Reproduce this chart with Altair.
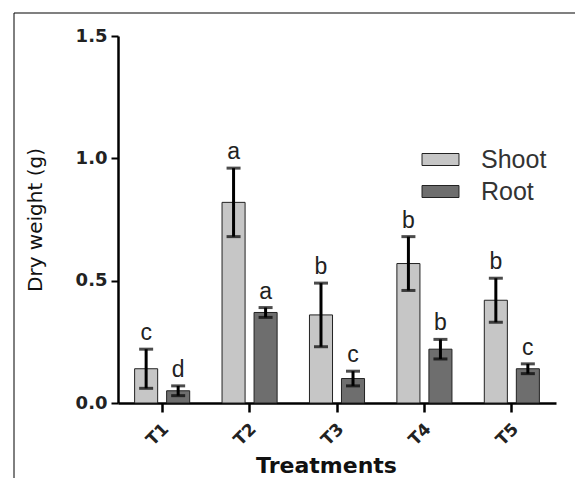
import altair as alt
import pandas as pd

treatments = ["T1", "T2", "T3", "T4", "T5"]
shoot = [0.14, 0.82, 0.36, 0.57, 0.42]
shoot_err = [0.08, 0.14, 0.13, 0.11, 0.09]
root = [0.05, 0.37, 0.10, 0.22, 0.14]
root_err = [0.02, 0.02, 0.03, 0.04, 0.02]
shoot_letters = ["c", "a", "b", "b", "b"]
root_letters = ["d", "a", "c", "b", "c"]
series = ["Shoot", "Root"]

rows = []
for i, t in enumerate(treatments):
    rows.append({"T": t, "S": "Shoot", "v": shoot[i], "lo": shoot[i] - shoot_err[i],
                 "hi": shoot[i] + shoot_err[i], "lab": shoot_letters[i]})
    rows.append({"T": t, "S": "Root", "v": root[i], "lo": root[i] - root_err[i],
                 "hi": root[i] + root_err[i], "lab": root_letters[i]})
df = pd.DataFrame(rows)

FONT = "Liberation Sans"
AXF = "DejaVu Sans"

x = alt.X("T:N", sort=treatments, title="Treatments",
          scale=alt.Scale(paddingInner=0.37, paddingOuter=0.19),
          axis=alt.Axis(labelAngle=-45, labelAlign="right", labelBaseline="middle",
                        labelFont=AXF, labelFontSize=17, labelFontWeight="bold",
                        labelColor="#222", labelPadding=14, labelOffset=4,
                        titleFont=AXF, titleFontSize=22, titleFontWeight="bold",
                        titleColor="#111", titleX=208, titleY=69,
                        titleBaseline="alphabetic", titleAlign="center",
                        domainWidth=2.5, domainColor="#000",
                        tickWidth=2.5, tickColor="#000", tickSize=9))
xo = alt.XOffset("S:N", sort=series, scale=alt.Scale(paddingInner=0.28, paddingOuter=0))
y = alt.Y("v:Q", title="Dry weight (g)",
          scale=alt.Scale(domain=[0, 1.5], nice=False),
          axis=alt.Axis(values=[0, 0.5, 1.0, 1.5], format=".1f", grid=False,
                        labelFont=AXF, labelFontSize=18, labelFontWeight="bold",
                        labelColor="#222", labelPadding=4,
                        titleFont=AXF, titleFontSize=20, titleFontWeight="normal",
                        titleColor="#111", titleX=-83, titleY=183.5, titleAngle=-90,
                        titleAlign="center", titleBaseline="middle",
                        domainWidth=2.5, domainColor="#000",
                        tickWidth=2, tickColor="#000", tickSize=7))

base = alt.Chart(df)

bars = base.mark_bar(stroke="#222", strokeWidth=1).encode(
    x=x, xOffset=xo, y=y,
    fill=alt.Fill("S:N", sort=series, title=None,
                  scale=alt.Scale(domain=series, range=["#c6c6c6", "#6e6e6e"]),
                  legend=alt.Legend(orient="none", legendX=310, legendY=111,
                                    labelFontSize=25, labelFont=FONT, labelColor="#333",
                                    symbolType="M-1.54,-0.5L1.54,-0.5L1.54,0.5L-1.54,0.5Z",
                                    symbolSize=576, symbolStrokeColor="#222",
                                    symbolStrokeWidth=1, symbolOpacity=1,
                                    rowPadding=6, labelOffset=28, padding=0)),
)

pos = dict(x=alt.X("T:N", sort=treatments), xOffset=alt.XOffset("S:N", sort=series))
err = base.mark_rule(color="#000", strokeWidth=3).encode(y="lo:Q", y2="hi:Q", **pos)
caps_hi = base.mark_tick(color="#000", thickness=3, size=14, orient="horizontal").encode(
    y="hi:Q", **pos)
caps_lo = base.mark_tick(color="#000", thickness=3, size=14, orient="horizontal").encode(
    y="lo:Q", **pos)
letters = base.mark_text(fontSize=23, font=FONT, color="#222", baseline="alphabetic",
                         dy=-9).encode(y="hi:Q", text="lab:N", **pos)

frame_src = alt.Chart(pd.DataFrame({"k": [0]}))
top_line = frame_src.mark_rule(color="#808080", strokeWidth=2).encode(
    x=alt.value(-104), x2=alt.value(460), y=alt.value(-23))
left_line = frame_src.mark_rule(color="#000", strokeWidth=1).encode(
    x=alt.value(-104), y=alt.value(-23), y2=alt.value(445))

chart = alt.layer(top_line, left_line, bars, err, caps_hi, caps_lo, letters).properties(
    width=438, height=367,
    padding={"left": 118, "top": 36, "right": 19, "bottom": 75},
    autosize=alt.AutoSizeParams(type="none"),
).configure(font=FONT).configure_view(stroke="transparent", strokeWidth=0)

chart.save("out.html", embed_options={"renderer": "svg", "actions": False})
